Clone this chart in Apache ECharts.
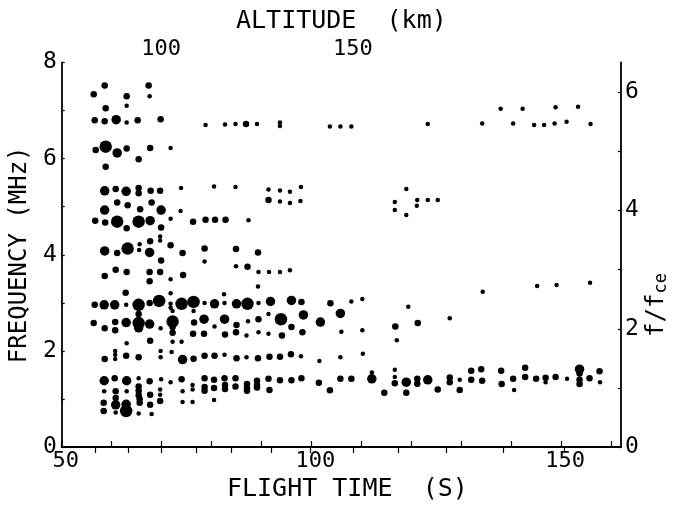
<!DOCTYPE html>
<html><head><meta charset="utf-8">
<script src="https://cdn.jsdelivr.net/npm/echarts@6/dist/echarts.min.js"></script>
<style>html,body{margin:0;padding:0;background:#fff}#c{width:679px;height:507px}</style>
</head><body><div id="c"></div>
<script>
// Flight-time (s) / frequency (MHz) points, grouped by dot size
var smallDots = [
[67.6,7.30],[63.0,7.10],[63.0,6.75],[78.8,6.70],[82.7,6.71],[84.8,6.72],[71.8,6.22],[73.9,5.39],[80.5,5.42],[84.8,5.41],[73.8,4.91],[71.8,4.75],
[89.1,6.72],[93.7,6.75],[93.7,6.68],[103.7,6.67],[105.8,6.67],[108.0,6.67],[123.3,6.72],
[91.4,5.36],[93.7,5.34],[95.7,5.31],[97.9,5.41],[93.7,5.11],[95.7,5.08],[97.8,5.12],
[119.0,5.37],[116.7,5.10],[116.7,4.93],[119.0,4.83],[121.2,5.14],[121.1,5.02],[123.3,5.14],[125.3,5.14],
[87.4,4.72],
[134.2,6.73],[137.9,7.04],[140.4,6.73],[142.3,7.04],[144.6,6.70],[146.6,6.70],[148.7,6.73],[148.9,7.07],[151.1,6.77],[153.4,7.08],[155.9,6.72],
[65.5,4.10],[65.6,4.22],[69.7,4.38],[69.7,4.30],[78.6,3.86],[84.9,3.76],[71.8,3.49],[71.8,3.20],[82.5,3.18],[62.9,2.96],[71.8,2.98],[71.8,2.90],[78.6,3.00],[82.6,3.00],[76.4,2.83],[72.2,2.83],[69.8,2.47],[80.6,2.51],[63.0,2.16],[72.2,2.19],[74.0,2.19],
[60.7,2.00],[60.7,1.92],[60.7,1.83],[69.8,2.00],[69.8,1.87],[72.0,1.98],[82.6,1.92],
[89.4,3.64],[91.5,3.64],[93.7,3.64],[95.7,3.68],[89.3,3.34],[89.4,3.00],[108.0,3.03],[110.2,3.08],[119.4,2.92],
[87.3,2.62],[91.4,2.77],[87.0,2.32],[89.4,2.39],[91.4,2.36],[106.0,2.40],[110.2,2.43],[117.1,2.22],[127.7,2.68],
[87.0,1.87],[97.9,1.89],[101.6,1.79],[105.8,1.87],[110.3,1.94],
[134.3,3.23],[145.2,3.35],[149.1,3.37],[155.8,3.42],
[65.4,1.43],[69.9,1.41],[71.8,1.35],[76.2,1.29],[58.5,1.16],[63.0,1.16],[69.7,1.20],[69.7,1.09],[74.2,1.16],[76.2,1.20],[74.2,0.94],[76.2,0.94],[80.5,0.98],[60.8,0.72],[65.4,0.70],[68.0,0.69],
[112.1,1.55],[116.7,1.61],[116.7,1.46],[129.7,1.40],[140.6,1.19],[146.9,1.35],[157.8,1.35],[151.2,1.42]
];
var mediumDots = [
[58.6,7.52],[67.4,7.52],[56.4,7.34],[63.0,7.30],[58.8,7.05],[56.6,6.80],[58.6,6.78],[65.2,6.80],[69.8,6.82],[86.9,6.72],
[56.8,6.18],[63.0,6.21],[67.7,6.22],[65.4,5.99],[58.8,5.83],
[60.8,5.37],[65.4,5.39],[65.4,5.28],[67.8,5.33],[69.7,5.33],
[61.1,5.09],[63.2,5.03],[68.0,5.09],[65.7,4.95],
[56.7,4.71],[58.7,4.67],[76.3,4.69],[78.8,4.73],[80.7,4.73],[82.8,4.73],[63.0,4.55],[69.9,4.57],
[91.4,5.14],
[67.7,4.28],[71.8,4.20],[61.1,4.04],[74.2,4.04],[78.6,4.13],[84.9,4.12],[89.3,4.05],
[69.9,3.88],[58.6,3.56],[60.8,3.69],[63.0,3.64],[67.6,3.64],[67.6,3.45],[69.7,3.64],[74.3,3.58],[87.2,3.75],
[62.8,3.21],[56.6,2.96],[67.6,3.00],[98.0,3.02],[103.8,2.99],
[65.4,2.77],[56.4,2.58],[58.6,2.47],[60.7,2.60],[60.7,2.43],[72.2,2.50],[72.2,2.38],[76.5,2.59],[85.0,2.54],[89.4,2.66],[96.0,2.50],[116.8,2.51],[121.3,2.58],
[76.3,2.36],[78.5,2.36],[82.7,2.34],[84.9,2.39],[94.1,2.32],[98.2,2.39],[67.7,2.21],
[58.6,1.83],[62.9,1.90],[65.4,1.87],[76.4,1.84],[78.6,1.90],[80.6,1.90],[85.0,1.85],[89.3,1.85],[91.6,1.88],[93.7,1.88],[95.9,1.93],
[60.6,1.43],[67.6,1.37],[74.0,1.41],[78.6,1.43],[80.5,1.40],[82.6,1.43],[84.8,1.43],
[87.1,1.31],[89.1,1.38],[91.4,1.42],[93.7,1.39],[96.0,1.39],[98.0,1.43],[101.5,1.34],[105.8,1.42],[108.0,1.42],[116.7,1.33],[121.2,1.42],[121.2,1.32],
[60.8,1.16],[65.4,1.26],[65.4,1.17],[65.4,1.08],[67.7,1.09],[78.6,1.25],[78.6,1.17],[80.5,1.23],[82.7,1.29],[82.7,1.21],[84.8,1.26],
[87.1,1.23],[87.1,1.17],[89.1,1.29],[89.1,1.24],[91.6,1.19],[103.7,1.18],[114.6,1.13],[119.0,1.13],[125.3,1.20],
[58.4,0.92],[60.8,1.02],[65.6,1.00],[65.6,0.92],[67.7,0.88],[69.7,0.96],[58.4,0.75],
[127.7,1.45],[127.7,1.35],[129.7,1.19],[132.0,1.59],[132.0,1.40],[134.0,1.62],[134.2,1.38],[138.0,1.59],[138.1,1.31],[140.4,1.42],[142.8,1.65],[142.8,1.46],[145.0,1.42],[146.9,1.44],[148.9,1.46],[153.7,1.53],[153.7,1.40],[153.7,1.31],[155.7,1.43],[157.7,1.58]
];
var largeDots = [
[60.9,6.81],[61.1,6.12],[58.6,5.33],[62.9,5.32],[58.6,4.93],[69.9,4.93],[67.7,4.71],[58.6,4.08],[67.6,4.05],
[58.5,2.96],[60.6,2.96],[80.6,2.98],[85.0,2.98],[91.8,3.03],[96.0,3.05],
[62.9,2.59],[65.4,2.48],[67.6,2.56],[78.5,2.66],[82.6,2.66],[98.4,2.75],[101.8,2.60],[105.8,2.78],
[74.2,1.82],[58.5,1.38],[63.0,1.38],[60.8,0.88],[62.9,0.89],[112.1,1.42],[119.0,1.35],[123.3,1.40],[153.7,1.62]
];
var hugeDots = [
[58.8,6.25],[61.1,4.69],[65.4,4.69],[63.2,4.13],[65.4,2.96],[69.5,3.04],[74.0,2.98],[76.4,3.02],[87.2,2.98],[65.4,2.58],[72.2,2.61],[93.9,2.66],[62.9,0.75]
];
// Altitude scale (top axis): altitude in km and the flight time where it is reached
var altitudeKm = [80,90,100,110,120,130,140,150,160,170,180,190];
var altitudeTimes = [56.7,63.4,69.9,77.0,84.0,91.9,99.8,108.3,117.3,127.0,138.5,150.6];
var altitudeLabelKm = [100,150];
var timeLabels = [50,100,150];
var freqLabels = [0,2,4,6,8];
var ratioLabels = [0,2,4,6];

var FONT = 'DejaVu Sans Mono';
var labelTimes = altitudeLabelKm.map(function(k){return altitudeTimes[altitudeKm.indexOf(k)];});

var chart = echarts.init(document.getElementById('c'), null, {renderer:'canvas'});
function sc(data, size){
  return {type:'scatter', data:data, symbolSize:size, itemStyle:{color:'#000', opacity:1}, silent:true, animation:false, xAxisIndex:0, yAxisIndex:0};
}
chart.setOption({
  animation:false,
  backgroundColor:'#fff',
  textStyle:{fontFamily:FONT},
  grid:{left:58, right:58, top:62.5, bottom:50, containLabel:false},
  xAxis:[{
    type:'value', min:50, max:162, interval:10, position:'bottom',
    name:'FLIGHT TIME  (S)', nameLocation:'middle', nameGap:22,
    nameTextStyle:{fontFamily:FONT, fontSize:25, color:'#000', padding:[0,0,0,12]},
    axisLine:{show:true, lineStyle:{color:'#000', width:1.5}},
    axisTick:{show:true, inside:true, length:6, lineStyle:{color:'#000', width:1.2}},
    splitLine:{show:false},
    axisLabel:{fontFamily:FONT, fontSize:22, color:'#000', margin:3, padding:[0,0,0,8], showMaxLabel:false,
      formatter:function(v){return timeLabels.indexOf(v)>=0 ? String(v) : '';}}
  },{
    type:'value', min:50, max:162, position:'top',
    name:'ALTITUDE  (km)', nameLocation:'middle', nameGap:26,
    nameTextStyle:{fontFamily:FONT, fontSize:25, color:'#000'},
    axisLine:{show:true, lineStyle:{color:'#000', width:2}},
    axisTick:{show:true, inside:true, length:6, customValues:altitudeTimes, lineStyle:{color:'#000', width:1.2}},
    splitLine:{show:false},
    axisLabel:{fontFamily:FONT, fontSize:22, color:'#000', margin:2, customValues:labelTimes,
      formatter:function(v){var i=labelTimes.indexOf(v); return i>=0 ? String(altitudeLabelKm[i]) : '';}}
  }],
  yAxis:[{
    type:'value', min:0, max:8, interval:1, position:'left',
    name:'FREQUENCY (MHz)', nameLocation:'middle', nameGap:24, nameRotate:90,
    nameTextStyle:{fontFamily:FONT, fontSize:24, color:'#000'},
    axisLine:{show:true, lineStyle:{color:'#000', width:1.8}},
    axisTick:{show:true, inside:true, length:3, lineStyle:{color:'#000', width:1.2}},
    splitLine:{show:false},
    axisLabel:{fontFamily:FONT, fontSize:23, color:'#000', margin:5,
      formatter:function(v){return freqLabels.indexOf(v)>=0 ? String(v) : '';}}
  },{
    type:'value', min:0, max:6.5, interval:1, position:'right',
    axisLine:{show:true, lineStyle:{color:'#000', width:1.8}},
    axisTick:{show:true, inside:true, length:3, lineStyle:{color:'#000', width:1.2}},
    splitLine:{show:false},
    axisLabel:{fontFamily:FONT, fontSize:23, color:'#000', margin:4, showMaxLabel:false,
      formatter:function(v){return ratioLabels.indexOf(v)>=0 ? String(v) : '';}}
  }],
  graphic:[{
    type:'text', x:657, y:305, rotation:Math.PI/2,
    style:{text:'{a|f/f}{b|ce}', align:'center', verticalAlign:'middle', fill:'#000',
      rich:{a:{fontFamily:FONT, fontSize:24, fill:'#000'}, b:{fontFamily:FONT, fontSize:17, fill:'#000', padding:[10,0,0,0]}}}
  }],
  series:[sc(smallDots,4.5), sc(mediumDots,6.5), sc(largeDots,9.5), sc(hugeDots,12.5)]
});
</script>
</body></html>
